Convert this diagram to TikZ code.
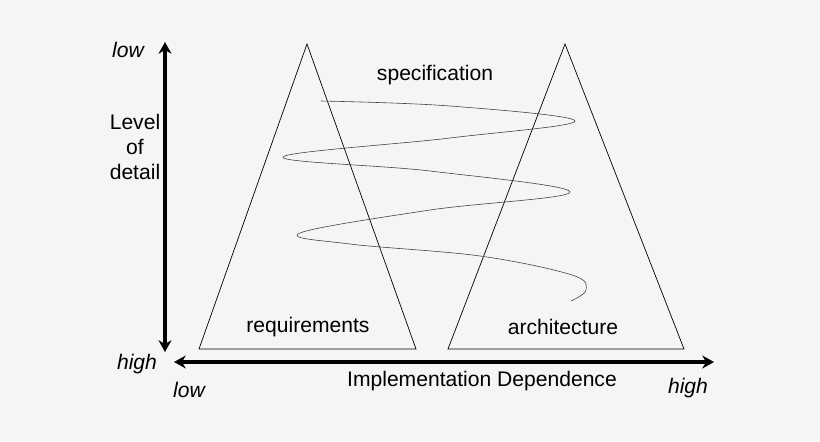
\documentclass[tikz,border=0pt]{standalone}
\usepackage{fontspec}
\setmainfont{Liberation Sans}
\usetikzlibrary{arrows.meta}
\tikzstyle{axis} = [line width=2.6pt,{Stealth[length=10pt,width=11pt]}-{Stealth[length=10pt,width=11pt]}]
\tikzstyle{label} = [font=\fontsize{18}{21}\selectfont, align=center]
\tikzstyle{ilabel} = [font=\fontsize{18}{21}\selectfont\itshape]
\tikzstyle{tri} = [draw=black, line width=0.6pt]
\begin{document}
\begin{tikzpicture}[x=0.03cm,y=-0.03cm]
        \fill[black!4] (0,0) rectangle (820,441);
        \useasboundingbox (0,0) rectangle (820,441);
        % the two triangles
        \draw [tri] (307,44) -- (416,349) -- (199,349) -- cycle;
        \draw [tri] (565,44) -- (684,349) -- (448,349) -- cycle;
        % spiral
        \draw [black!75, line width=0.5pt] plot[smooth, tension=0.6] coordinates {(321,101) (450,106) (575,121) (450,138) (283,157) (430,171) (570,192) (430,210) (300,233) (350,244) (480,256) (572,275) (586,290) (571,301)};
        % axes
        \coordinate (vtop) at (165,42);
        \coordinate (vbot) at (165,352);
        \coordinate (hl) at (174,362);
        \coordinate (hr) at (714,362);
        \draw [axis] (vtop) -- (vbot);
        \draw [axis] (hl) -- (hr);
        \node (lowv) [ilabel] at (128,50) {low};
        \node (highv) [ilabel] at (137,364) {high};
        \node (lod) [label] at (135,147) {Level\\of\\detail};
        \node (lowh) [ilabel] at (189,390) {low};
        \node (highh) [ilabel] at (688,388) {high};
        \node (impl) [label] at (482,381) {Implementation Dependence};
        \node (spec) [label] at (435,75) {specification};
        \node (req) [label] at (308,327) {requirements};
        \node (arch) [label] at (563,327) {architecture};
    \end{tikzpicture}
\end{document}
